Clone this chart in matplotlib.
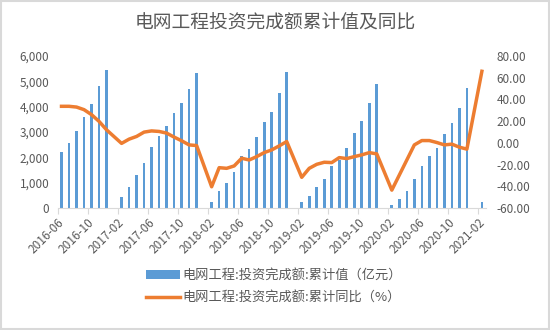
# 电网工程投资完成额 累计值(柱) + 累计同比(线), 双轴
import matplotlib
matplotlib.use('AGG')
import matplotlib.pyplot as plt
import numpy as np
import pandas as pd
from matplotlib.patches import Rectangle

plt.rcParams['font.family'] = ['Noto Sans CJK SC', 'DejaVu Sans']

#%% data (1月无数据)
nan = np.nan
months = [str(p) for p in pd.period_range('2016-06', '2021-02', freq='M')]

invest_2016 = [2200, 2570, 3020, 3580, 4100, 4800, 5450]
invest_2017 = [nan, 430, 840, 1300, 1780, 2400, 2850, 3250, 3750, 4140, 4680, 5350]
invest_2018 = [nan, 250, 670, 975, 1420, 2040, 2330, 2790, 3390, 3790, 4530, 5390]
invest_2019 = [nan, 225, 490, 820, 1160, 1660, 1900, 2370, 2950, 3440, 4140, 4890]
invest_2020 = [nan, 120, 355, 660, 1130, 1660, 2055, 2380, 2920, 3370, 3950, 4720]
invest_2021 = [nan, 240]

yoy_2016 = [33.7, 33.7, 33.0, 30.6, 26.0, 19.8, 12.0]
yoy_2017 = [nan, -0.5, 3.4, 5.9, 9.9, 11.0, 10.5, 9.0, 5.3, 1.9, -1.9, -2.5]
yoy_2018 = [nan, -40.5, -22.9, -23.5, -21.3, -14.2, -15.8, -12.7, -9.0, -6.5, -2.8, 1.2]
yoy_2019 = [nan, -31.8, -23.5, -19.8, -17.9, -18.2, -13.6, -14.5, -12.7, -11.1, -9.0, -10.2]
yoy_2020 = [nan, -43.6, -29.7, -15.8, -1.9, 2.1, 2.1, 0.3, -1.9, -1.2, -4.0, -5.8]
yoy_2021 = [nan, 66.0]

invest = np.array(invest_2016 + invest_2017 + invest_2018 + invest_2019 + invest_2020 + invest_2021)
yoy = np.array(yoy_2016 + yoy_2017 + yoy_2018 + yoy_2019 + yoy_2020 + yoy_2021)

label_bar = '电网工程:投资完成额:累计值（亿元）'
label_line = '电网工程:投资完成额:累计同比（%）'
title = '电网工程投资完成额累计值及同比'

bar_color = '#5B9BD5'
line_color = '#ED7D31'
txt_color = '#595959'

#%% plot
x = np.arange(len(months))
valid = ~np.isnan(yoy)

fig = plt.figure(figsize=(5.5, 3.3), dpi=100)
ax1 = fig.add_axes([0.105, 0.37, 0.778, 0.46])
ax2 = ax1.twinx()

b = ax1.bar(x, np.nan_to_num(invest), width=0.35, color=bar_color, label=label_bar, zorder=2)
l, = ax2.plot(x[valid], yoy[valid], color=line_color, linewidth=2.5, label=label_line,
              solid_joinstyle='round', zorder=3)

ax1.set_xlim(-0.5, len(months) - 0.5)
ax1.set_ylim(0, 6000)
ax1.set_yticks(np.arange(0, 6001, 1000))
ax1.set_yticklabels(['{:,}'.format(v) for v in range(0, 6001, 1000)])
ax2.set_ylim(-60, 80)
ax2.set_yticks(np.arange(-60, 81, 20))
ax2.set_yticklabels(['{:.2f}'.format(v) for v in range(-60, 81, 20)])

# category ticks every 4 months, at category boundaries
tick_idx = np.arange(0, len(months), 4)
ax1.set_xticks(tick_idx - 0.5)
ax1.set_xticklabels([months[i] for i in tick_idx], rotation=45, ha='right',
                    rotation_mode='anchor', fontsize=8.5, color=txt_color)
ax1.tick_params(axis='x', length=4, color='#D9D9D9', pad=2)

for ax in (ax1, ax2):
    for s in ['top', 'left', 'right']:
        ax.spines[s].set_visible(False)
    ax.spines['bottom'].set_color('#D9D9D9')
    ax.tick_params(axis='y', length=0, labelsize=8.5, labelcolor=txt_color)
ax2.spines['bottom'].set_visible(False)
ax1.tick_params(axis='y', pad=6)
ax2.tick_params(axis='y', pad=8)

fig.text(0.5, 0.933, title, ha='center', va='center', fontsize=13.5, color=txt_color)

fig.legend([b, l], [label_bar, label_line], loc='upper left', bbox_to_anchor=(0.255, 0.2),
           frameon=False, fontsize=9.5, labelcolor=txt_color, handlelength=2.6,
           handletextpad=0.2, labelspacing=0.7, borderaxespad=0)

# chart border
fig.patches.append(Rectangle((0.002, 0.003), 0.996, 0.994, transform=fig.transFigure,
                             fill=False, edgecolor='#D9D9D9', linewidth=1.5))

fig.savefig('out.png', dpi=100)
plt.close()
